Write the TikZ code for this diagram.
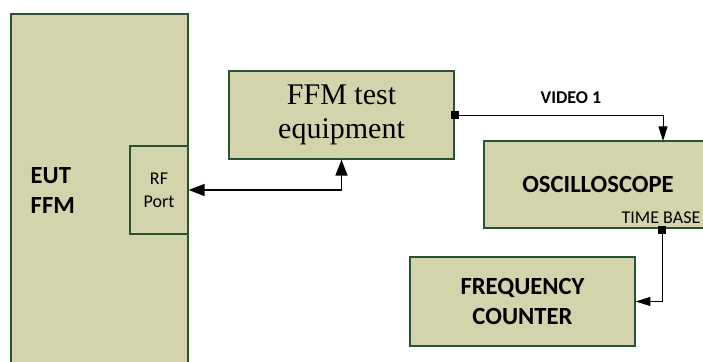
\documentclass[tikz,border=0pt]{standalone}
\usepackage{fontspec}
\setmainfont{Liberation Serif}
\newfontfamily\calibri{Carlito}
\usetikzlibrary{arrows.meta}
\definecolor{boxfill}{RGB}{211,212,172}
\definecolor{boxline}{RGB}{44,82,52}
\tikzset{
 box/.style={draw=boxline,fill=boxfill,line width=1pt,rectangle,inner sep=0pt},
 pin/.style={fill=black,minimum size=6pt,inner sep=0pt},
 bold/.style={font=\calibri\bfseries\fontsize{18.5}{22}\selectfont,align=center},
 small/.style={font=\calibri\fontsize{13.5}{17}\selectfont,align=center},
 tip/.style={-{Triangle[length=11pt,width=6.75pt]},line width=0.75pt}
}
\begin{document}
\begin{tikzpicture}[x=0.75pt,y=-0.75pt]
\clip (0,0) rectangle (703,361);
\node[box,minimum width=132.75pt,minimum height=279pt](eut) at(99.5,200){};
\node[bold,align=left,anchor=west](eutText) at(26,190.5){EUT\\FFM};
\node[box,small,minimum width=43.5pt,minimum height=66pt](rf) at(159,190){RF\\Port};
\node[box,minimum width=168.75pt,minimum height=66pt,align=center,
 font=\fontsize{22.5}{25.5}\selectfont](ffm) at(341.5,115){FFM test\\equipment};
\node[box,bold,minimum width=171pt,minimum height=65.25pt](osc) at(598,184.5){OSCILLOSCOPE};
\node[box,bold,minimum width=168.75pt,minimum height=66.75pt](freq) at(522.5,301.5){FREQUENCY\\COUNTER};
\node[pin](vid) at(454.5,115){};
\node[pin](tb) at(662,229.5){};
\coordinate (vin) at(663,141);
\node[small,anchor=base,font=\calibri\bfseries\fontsize{13.5}{17}\selectfont](vidText) at(571,103){VIDEO 1};
\node[small,anchor=base](tbText) at(661,223){TIME BASE};
\draw[line width=1.1pt,{Triangle[length=12pt,width=9pt]}-{Triangle[length=12pt,width=9pt]}] (rf.east) -| (ffm.south);
\draw[tip] (vid) -| (vin);
\draw[tip] (tb) |- (freq.east);
\end{tikzpicture}
\end{document}
